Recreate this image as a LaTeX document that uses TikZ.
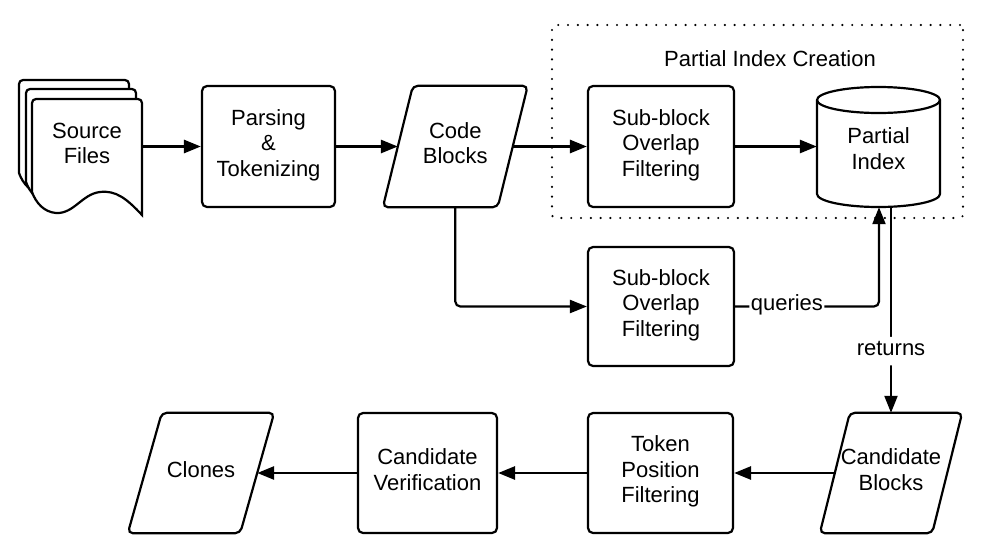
\documentclass[tikz,border=0pt]{standalone}
\usepackage{fontspec}
\setmainfont{Liberation Sans}
\usetikzlibrary{arrows.meta,calc}
\newcommand\st{\rule[-8.5pt]{0pt}{25.5pt}}
\newcommand\docshape[2]{%
  \draw[docline, shift={(#1,#2)}] (0,-93) -- (0,-4) arc[start angle=180,end angle=90,radius=4pt] -- (106,0) arc[start angle=90,end angle=0,radius=4pt] -- (110,-116) .. controls (95,-100) and (84,-91) .. (68,-93) .. controls (50,-95) and (42,-115) .. (24,-114) .. controls (12,-113) and (4,-104) .. (0,-93) -- cycle;}
\newcommand\paradraw[2]{%
  \draw[outline, rounded corners=5pt] ($(#2.north west)+(#1,0)$) -- ($(#2.north east)+(#1,0)$) -- ($(#2.south east)+(-#1,0)$) -- ($(#2.south west)+(-#1,0)$) -- cycle;}
\begin{document}
\begin{tikzpicture}[x=1pt,y=1pt,
  every node/.style={font=\fontsize{22}{25.5}\selectfont, align=center},
  outline/.style={line width=2.2pt},
  docline/.style={line width=2.2pt, fill=white},
  box/.style={draw, line width=2.2pt, rounded corners=5pt, inner sep=0pt},
  plain/.style={inner sep=0pt},
  flow/.style={line width=2.8pt, -{Triangle[length=17pt,width=13pt]}},
  thin/.style={line width=2.2pt, rounded corners=5pt, -{Triangle[length=17pt,width=13pt]}},
  lbl/.style={fill=white, inner sep=1.5pt},
  group/.style={draw, line width=2.4pt, dash pattern=on 0pt off 9.8pt, line cap=round, rounded corners=3pt, inner sep=0pt}]
\useasboundingbox (0,0) rectangle (996,-555);

% group box
\node[group, minimum width=411, minimum height=193] (grp) at (757.5,-121.5) {};
\node (grplabel) at (770,-61.75) {\st Partial Index Creation};

% source files stack
\docshape{19}{-80}
\docshape{26}{-89}
\docshape{32}{-99}
\node[plain, minimum width=110] (src) at (87,-146.5) {\st Source\\\st Files};

\node[box, minimum width=133, minimum height=121] (parse) at (268.5,-146.5) {\st Parsing\\\st\&\\\st Tokenizing};
\node[plain, minimum width=114.5, minimum height=121] (code) at (455.3,-146.5) {\st Code\\\st Blocks};
\paradraw{15}{code}
\node[box, minimum width=146, minimum height=121] (sub1) at (661,-146.5) {\st Sub-block\\\st Overlap\\\st Filtering};

% partial index cylinder
\draw[outline, fill=white] (817,-100) -- (817,-194) arc[start angle=180, end angle=360, x radius=61.5pt, y radius=13pt] -- (940,-100) arc[start angle=0, end angle=180, x radius=61.5pt, y radius=13pt] -- cycle;
\draw[outline] (817,-100) arc[start angle=180, end angle=360, x radius=61.5pt, y radius=13pt];
\node[plain, minimum width=123, minimum height=120] (pidx) at (878.5,-147) {};
\node (pidxtext) at (878.5,-152) {\st Partial\\\st Index};

\node[box, minimum width=146, minimum height=119] (sub2) at (661,-306.5) {\st Sub-block\\\st Overlap\\\st Filtering};

\node[plain, minimum width=112, minimum height=120] (cand) at (891,-473) {\st Candidate\\\st Blocks};
\paradraw{15}{cand}
\node[box, minimum width=145, minimum height=120] (tok) at (660.5,-473) {\st Token\\\st Position\\\st Filtering};
\node[box, minimum width=139, minimum height=120] (ver) at (427.5,-473) {\st Candidate\\\st Verification};
\node[plain, minimum width=112, minimum height=120] (clones) at (201,-473) {\st Clones};
\paradraw{17}{clones}

% connectors
\draw[flow] (src.east) -- (parse.west);
\draw[flow] (parse.east) -- (code.west);
\draw[flow] (code.east) -- (sub1.west);
\draw[flow] (sub1.east) -- (sub1.east -| pidx.west);
\draw[thin] (code.south) |- (sub2.west);
\draw[thin] (sub2.east) -| node[pos=0.18, lbl] (q) {\st queries} ([xshift=0.5pt]pidx.south);
\draw[thin] (cand.north |- pidx.south) -- node[pos=0.7, lbl] (r) {\st returns} (cand.north);
\draw[flow] (cand.west) -- (tok.east);
\draw[flow] (tok.west) -- (ver.east);
\draw[flow] (ver.west) -- (clones.east);
\end{tikzpicture}
\end{document}
